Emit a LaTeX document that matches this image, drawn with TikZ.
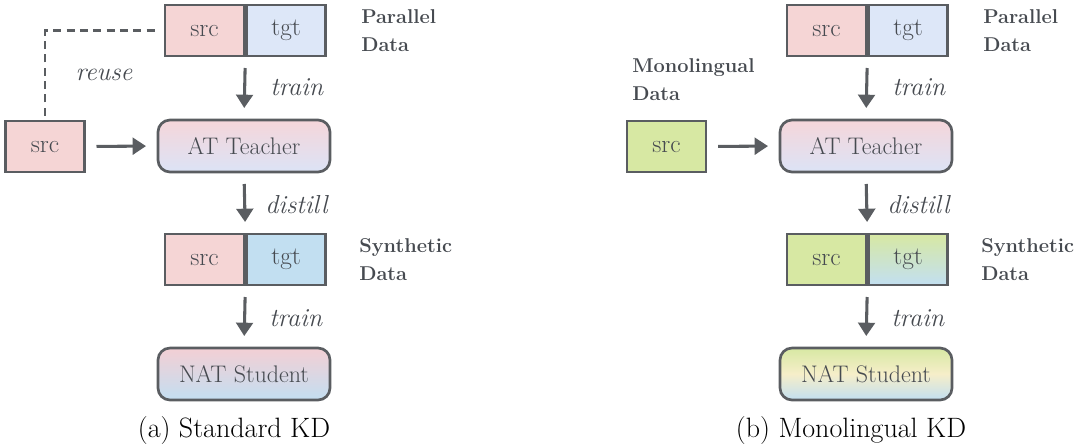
\documentclass[tikz,border=0pt]{standalone}
\usetikzlibrary{arrows.meta,positioning}
\definecolor{edgegray}{HTML}{5A5D61}
\definecolor{txtgray}{HTML}{464A50}
\definecolor{srcpink}{HTML}{F5D5D5}
\definecolor{tgtblue}{HTML}{DDE7F8}
\definecolor{synblue}{HTML}{C2DFF1}
\definecolor{monogreen}{HTML}{D7E8A3}
\definecolor{tchpink}{HTML}{F5D6DA}
\definecolor{tchblue}{HTML}{DCE3F6}
\definecolor{stdpink}{HTML}{F3CFD4}
\definecolor{stdblue}{HTML}{C3DEF1}
\definecolor{cream}{HTML}{F6EEC9}
\tikzset{
    cell/.style={
    rectangle,draw=edgegray,line width=2pt,minimum width=59.25pt,minimum height=38.25pt,inner sep=0pt,text=txtgray,font=\fontsize{19}{23}\selectfont
    },
    model/.style={
    rectangle,rounded corners=9pt,draw=edgegray,line width=2pt,minimum width=129pt,minimum height=39pt,inner sep=0pt,text=txtgray,font=\fontsize{18}{22}\selectfont
    },
    datalabel/.style={
    align=left,anchor=west,inner sep=0pt,text=txtgray,font=\fontsize{15}{21}\selectfont\bfseries
    },
    steplabel/.style={
    anchor=west,inner sep=0pt,text=txtgray,font=\fontsize{19.5}{23}\selectfont\itshape
    },
    flow/.style={
    draw=edgegray,line width=2.3pt,shorten <=8pt,shorten >=8pt,-{Triangle[length=10pt,width=12.5pt]}
    },
    reuse/.style={
    draw=edgegray,line width=1.7pt,dash pattern=on 6pt off 4pt
    },
    caption/.style={
    font=\fontsize{21}{25}\selectfont
    },
}
\begin{document}
\begin{tikzpicture}[x=0.75pt,y=-0.75pt]
   \useasboundingbox (0,0) rectangle (1080,447);

   % (a) standard KD
   \node[cell,fill=srcpink] (Psrc) at (204.5,30.5) {src};
   \node[cell,fill=tgtblue,right=0pt of Psrc] (Ptgt) {tgt};
   \node[datalabel] (Plbl) at (361,31) {Parallel\\Data};
   \node[cell,fill=srcpink] (Ssrc) at (45,146.5) {src};
   \node[model,top color=tchpink,bottom color=tchblue] (AT) at (244,146) {AT Teacher};
   \node[cell,fill=srcpink] (Ysrc) at (204.5,259.5) {src};
   \node[cell,fill=synblue,right=0pt of Ysrc] (Ytgt) {tgt};
   \node[datalabel] (Ylbl) at (359,260) {Synthetic\\Data};
   \node[model,top color=stdpink,bottom color=stdblue] (NAT) at (244,374) {NAT Student};
   \node[steplabel] (train1) at (270,87) {train};
   \node[steplabel] (distill) at (265,205) {distill};
   \node[steplabel] (train2) at (269,318) {train};
   \node[steplabel,anchor=center] (reuselbl) at (104,75) {reuse};
   \node[caption] (capa) at (234,431) {(a) Standard KD};

   \draw[reuse] ([yshift=3pt]Ssrc.north) |- ([xshift=-4pt]Psrc.west);
   \draw[flow] (Psrc.south east) -- (AT.north);
   \draw[flow] (Ssrc.east) -- (AT.west);
   \draw[flow] (AT.south) -- (Ysrc.north east);
   \draw[flow] (Ysrc.south east) -- (NAT.north);

   % (b) monolingual KD
   \node[cell,fill=srcpink] (Qsrc) at (826.5,30.5) {src};
   \node[cell,fill=tgtblue,right=0pt of Qsrc] (Qtgt) {tgt};
   \node[datalabel] (Qlbl) at (983,31) {Parallel\\Data};
   \node[datalabel] (Mlbl) at (632,80) {Monolingual\\Data};
   \node[cell,fill=monogreen] (Msrc) at (666.5,146.5) {src};
   \node[model,top color=tchpink,bottom color=tchblue] (AT2) at (866,146) {AT Teacher};
   \node[cell,fill=monogreen] (Zsrc) at (826.5,259.5) {src};
   \node[cell,top color=monogreen,bottom color=synblue,right=0pt of Zsrc] (Ztgt) {tgt};
   \node[datalabel] (Zlbl) at (981,260) {Synthetic\\Data};
   \node[model,top color=monogreen,bottom color=synblue,middle color=cream] (NAT2) at (866,374) {NAT Student};
   \node[steplabel] (train3) at (892,87) {train};
   \node[steplabel] (distill2) at (887,205) {distill};
   \node[steplabel] (train4) at (891,318) {train};
   \node[caption] (capb) at (851,431) {(b) Monolingual KD};

   \draw[flow] (Qsrc.south east) -- (AT2.north);
   \draw[flow] (Msrc.east) -- (AT2.west);
   \draw[flow] (AT2.south) -- (Zsrc.north east);
   \draw[flow] (Zsrc.south east) -- (NAT2.north);
\end{tikzpicture}
\end{document}
